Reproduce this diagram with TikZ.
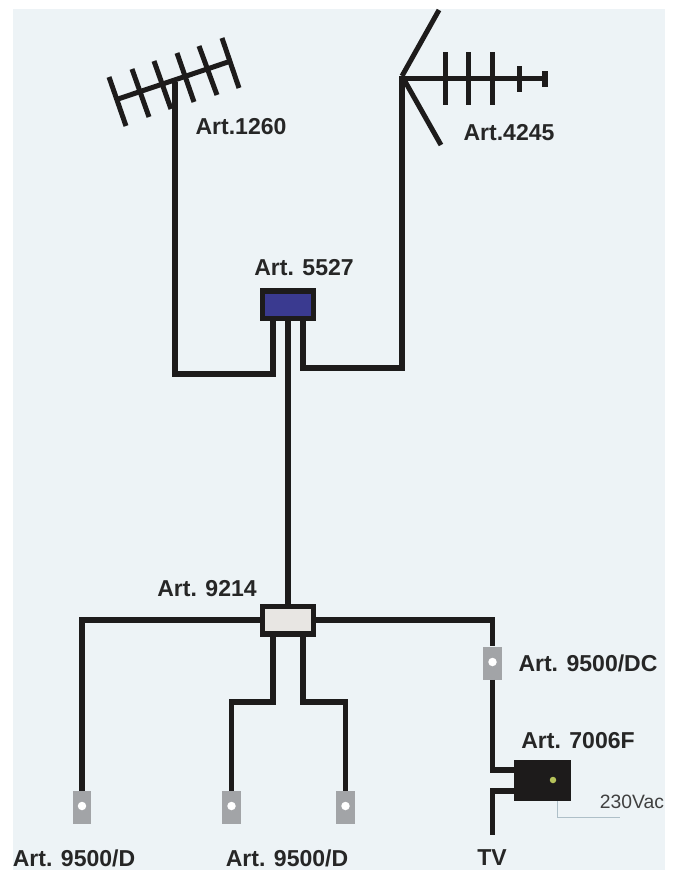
\documentclass[tikz,border=0pt]{standalone}
\usepackage{fontspec}
\setmainfont{Liberation Sans}
\definecolor{wall}{HTML}{EDF3F6}
\definecolor{cable}{HTML}{1D1B1B}
\definecolor{ampblue}{HTML}{3A3A90}
\definecolor{splitgrey}{HTML}{E8E6E3}
\definecolor{plate}{HTML}{A2A4A7}
\definecolor{mainsline}{HTML}{AEBFC8}
\definecolor{led}{HTML}{B5C25A}
\tikzstyle{cablea} = [draw=cable, line width=.11cm]
\tikzstyle{rod} = [draw=cable, line width=.1cm]
\tikzstyle{boxa} = [rectangle, draw=cable, line width=.11cm, inner sep=0pt, minimum width=1.03cm, minimum height=.55cm]
\tikzstyle{outlet} = [rectangle, fill=plate, inner sep=0pt, minimum width=.38cm, minimum height=.66cm]
\tikzstyle{hole} = [circle, fill=white, inner sep=0pt, minimum size=.17cm]
\tikzstyle{labela} = [font=\fontsize{13.1}{15}\selectfont\bfseries, text=black!85, inner sep=0pt]

\begin{document}
\begin{tikzpicture}[x=.02cm,y=-.02cm]
      \useasboundingbox (0,0) rectangle (674,870);
      \fill[wall] (13,9) rectangle (665,870);

      % first antenna
      \draw[rod] (118,99) -- (228,62);
      \draw[rod] (109,77) -- (126,126);
      \draw[rod] (132,69) -- (149,117);
      \draw[rod] (154,61) -- (171,109);
      \draw[rod] (177,53) -- (194,102);
      \draw[rod] (199,46) -- (217,95);
      \draw[rod] (222,38) -- (239,88);
      \coordinate (feedA) at (175,82);

      % second antenna
      \coordinate (feedB) at (402,76);
      \draw[rod] (feedB) -- (439,10);
      \draw[rod] (feedB) -- (441,145);
      \draw[rod] (400,78) -- (545,78);
      \draw[rod] (445,52) -- (445,105);
      \draw[rod] (468,52) -- (468,105);
      \draw[rod] (492,52) -- (492,105);
      \draw[rod] (519,66) -- (519,92);
      \draw[line width=.12cm, draw=cable] (545,71) -- (545,87);

      % boxes
      \node[boxa, fill=ampblue] (amp) at (288,304.5) {};
      \node[boxa, fill=splitgrey] (split) at (288,620) {};
      \node[rectangle, fill=cable, inner sep=0pt, minimum width=1.14cm, minimum height=.82cm] (psu) at (542.5,780.5) {};
      \node[circle, fill=led, inner sep=0pt, minimum size=.13cm] (lamp) at (553,780) {};

      % outlets
      \node[outlet] (outA) at (82,807.5) {};
      \node[outlet] (outB) at (231.5,807.5) {};
      \node[outlet] (outC) at (345.5,807.5) {};
      \node[outlet] (outD) at (492.5,663) {};
      \node[hole] (holeA) at (82,806) {};
      \node[hole] (holeB) at (231.5,806) {};
      \node[hole] (holeC) at (345.5,806) {};
      \node[hole] (holeD) at (492.5,662) {};

      % cables
      \coordinate (tv) at (492.5,835);
      \coordinate (kneeA) at (175,374);
      \coordinate (kneeB) at (402,368);
      \coordinate (kneeC) at (231.5,702);
      \coordinate (kneeD) at (345.5,702);
      \coordinate (jackA) at (0,770);
      \coordinate (jackB) at (0,791);
      \draw[cablea] (feedA) -- (kneeA) -| ([xshift=-.3cm]amp.south);
      \draw[cablea] (feedB |- 0,76) -- (kneeB) -| ([xshift=.3cm]amp.south);
      \draw[cablea] (amp.south) -- (split.north);
      \draw[cablea] (split.west) -| (outA.north);
      \draw[cablea] ([xshift=-.3cm]split.south) |- (kneeC) -- (outB.north);
      \draw[cablea] ([xshift=.3cm]split.south) |- (kneeD) -- (outC.north);
      \draw[cablea] (split.east) -| (outD.north);
      \draw[cablea] (outD.south) |- (psu.west |- jackA);
      \draw[cablea] (psu.west |- jackB) -| (tv);
      \draw[mainsline, line width=.02cm] (557,801) -- (557,817) -- (620,817);

      % labels
      \node[labela] (lab1260) at (241,127) {Art.1260};
      \node[labela] (lab4245) at (509,133) {Art.4245};
      \node[labela] (lab5527) at (304,268) {Art. 5527};
      \node[labela] (lab9214) at (207,589) {Art. 9214};
      \node[labela] (labdc) at (588,663) {Art. 9500/DC};
      \node[labela] (lab7006) at (578,741) {Art. 7006F};
      \node[labela] (labA) at (74,858) {Art. 9500/D};
      \node[labela] (labB) at (287,858) {Art. 9500/D};
      \node[labela] (labtv) at (492,858) {TV};
      \node[font=\fontsize{11}{13}\selectfont, text=black!75, inner sep=0pt] (labvac) at (632,802) {230Vac};
    \end{tikzpicture}
\end{document}
